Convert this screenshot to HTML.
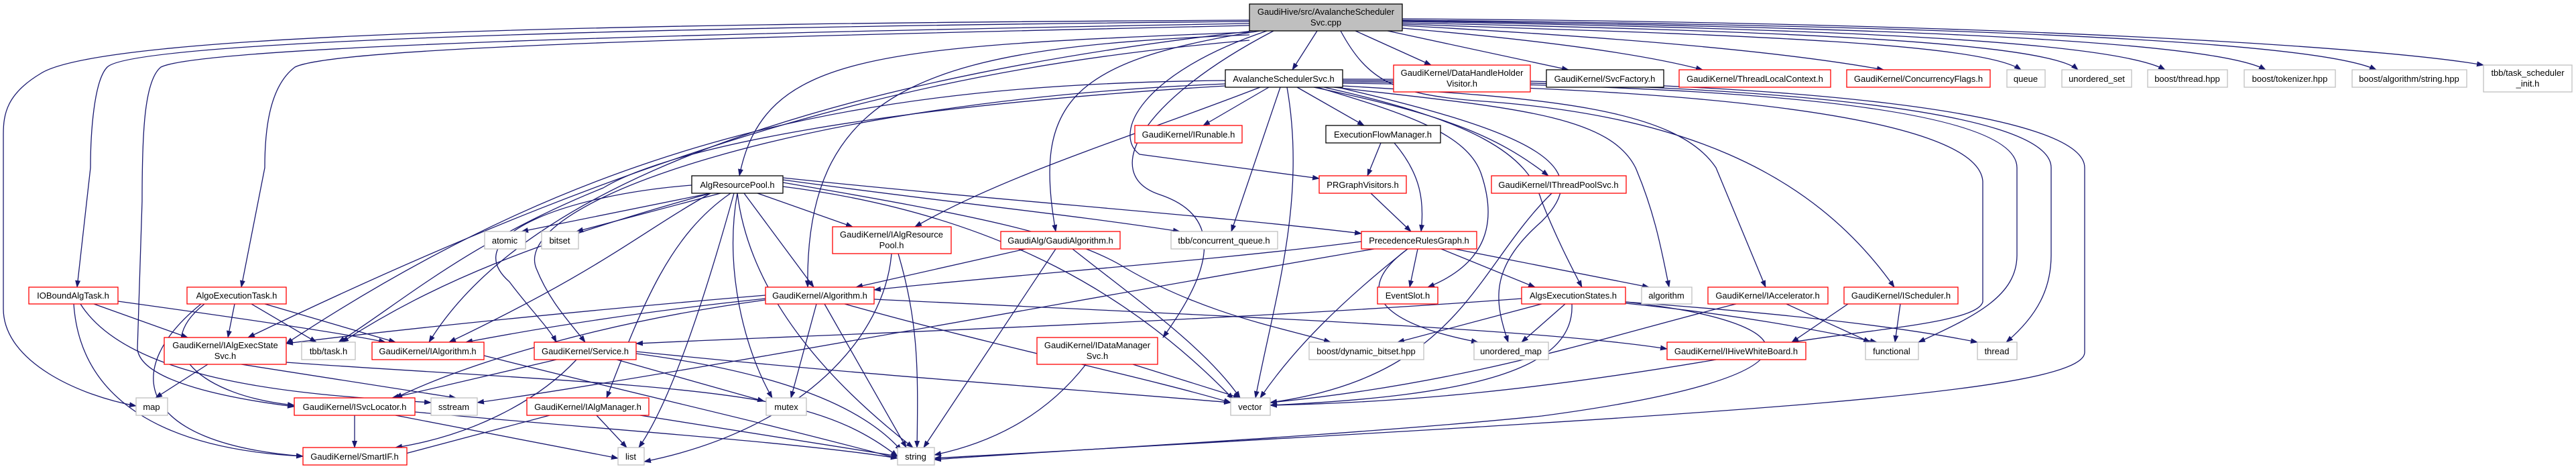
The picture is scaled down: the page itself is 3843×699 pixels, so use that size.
<!DOCTYPE html>
<html><head><meta charset="utf-8"><style>
html,body{margin:0;padding:0;background:#fff;}
svg{display:block;}
text{font-family:"Liberation Sans",sans-serif;font-size:13px;fill:#000;}
.e{fill:none;stroke:#191970;stroke-width:1.3;marker-end:url(#a);}
.r{fill:#fff;stroke:#ff0000;stroke-width:1.3;}
.k{fill:#fff;stroke:#000;stroke-width:1.3;}
.g{fill:#fff;stroke:#bfbfbf;stroke-width:1.3;}
</style></head><body>
<svg width="3843" height="699" viewBox="0 0 3843 699" xmlns="http://www.w3.org/2000/svg">
<defs><marker id="a" markerUnits="userSpaceOnUse" markerWidth="11" markerHeight="8" refX="10" refY="4" orient="auto"><path d="M0,0 L11,4 L0,8 z" fill="#191970"/></marker></defs>
<g>
<path class="e" d="M1965,46 L1928,104"/>
<path class="e" d="M2022,46 L2135,97"/>
<path class="e" d="M2070,46 L2340,104"/>
<path class="e" d="M2092,42 C2300,60 2450,80 2540,104"/>
<path class="e" d="M2092,38 C2400,55 2650,75 2810,104"/>
<path class="e" d="M2092,36 C2500,50 2950,60 3015,104"/>
<path class="e" d="M2092,34 C2600,45 3050,60 3100,104"/>
<path class="e" d="M2092,32 C2700,42 3150,60 3230,104"/>
<path class="e" d="M2092,31 C2800,40 3300,60 3380,104"/>
<path class="e" d="M2092,30 C2900,38 3450,60 3545,104"/>
<path class="e" d="M2092,28 C3000,34 3550,70 3705,97"/>
<path class="e" d="M1864,30 C900,35 150,50 60,110 C10,140 5,170 5,200 L5,460 C5,540 120,590 203,605"/>
<path class="e" d="M1864,32 C1000,40 200,60 160,100 C140,120 135,200 135,250 L115,428"/>
<path class="e" d="M1864,35 C1000,50 300,70 240,100 C215,120 212,200 212,300 L205,520 C210,570 350,595 439,606"/>
<path class="e" d="M1864,38 C1100,55 500,70 440,100 C400,130 395,200 395,250 L360,428"/>
<path class="e" d="M1864,60 C1400,100 1000,200 370,503"/>
<path class="e" d="M1870,46 C1300,110 800,250 640,510"/>
<path class="e" d="M1864,48 C1300,70 1140,80 1103,262"/>
<path class="e" d="M1864,52 C1400,70 1200,120 1205,428"/>
<path class="e" d="M1880,46 C1600,90 1540,150 1575,345"/>
<path class="e" d="M1890,46 C1700,110 1660,200 1700,230 L1968,266"/>
<path class="e" d="M1900,46 C1700,150 1640,260 1730,290 C1850,330 1780,440 1735,503"/>
<path class="e" d="M2000,46 C2040,120 2080,140 2200,150 C2500,170 2700,250 2826,428"/>
<path class="e" d="M1893,130 L1795,187"/>
<path class="e" d="M1935,130 L2035,187"/>
<path class="e" d="M1910,130 L1837,345"/>
<path class="e" d="M1920,130 C1950,300 1900,450 1873,593"/>
<path class="e" d="M1960,130 C2150,170 2230,200 2310,262"/>
<path class="e" d="M1965,130 C2100,170 2190,200 2210,260 C2240,350 2200,400 2130,428"/>
<path class="e" d="M1975,130 C2200,180 2280,230 2300,300 C2320,350 2340,390 2360,428"/>
<path class="e" d="M1990,130 C2250,160 2400,170 2440,250 C2470,320 2480,380 2490,428"/>
<path class="e" d="M2003,128 C2300,145 2500,160 2560,250 L2634,428"/>
<path class="e" d="M2003,124 C2500,130 2950,170 2958,270 L2958,450 C2950,480 2800,490 2673,510"/>
<path class="e" d="M2003,122 C2500,125 3009,150 3009,250 L3009,380 C3009,440 2950,470 2862,510"/>
<path class="e" d="M2003,120 C2600,122 3060,160 3060,250 L3060,380 C3060,430 3040,470 2993,510"/>
<path class="e" d="M2003,118 C2700,118 3110,170 3110,250 L3110,525 C3110,590 2500,620 1394,683"/>
<path class="e" d="M1828,120 C1300,125 900,200 427,512"/>
<path class="e" d="M1880,130 C1700,200 1500,260 1365,338"/>
<path class="e" d="M1828,125 C1200,150 760,300 800,400 C820,450 850,480 873,510"/>
<path class="e" d="M1828,128 C1300,160 1000,220 900,280 C700,360 600,450 505,510"/>
<path class="e" d="M1995,130 C2300,200 2380,250 2300,330 C2220,400 2230,450 2250,510"/>
<path class="e" d="M2060,213 L2040,262"/>
<path class="e" d="M2080,213 C2120,260 2125,300 2120,345"/>
<path class="e" d="M2045,288 L2105,345"/>
<path class="e" d="M2315,288 C2200,400 2180,560 1895,600"/>
<path class="e" d="M1060,288 L778,345"/>
<path class="e" d="M1075,288 L860,345"/>
<path class="e" d="M1130,288 L1272,338"/>
<path class="e" d="M1110,288 L1214,428"/>
<path class="e" d="M1060,288 C800,360 650,420 510,510"/>
<path class="e" d="M1060,288 C950,350 900,400 670,510"/>
<path class="e" d="M1032,276 C850,290 680,350 760,420 C790,460 820,490 830,510"/>
<path class="e" d="M1090,288 C1000,350 960,450 905,593"/>
<path class="e" d="M1095,288 C1050,450 1000,600 953,667"/>
<path class="e" d="M1100,288 C1080,400 1110,520 1152,593"/>
<path class="e" d="M1100,288 C1120,450 1250,580 1362,667"/>
<path class="e" d="M1168,278 C1500,320 1700,450 1840,595"/>
<path class="e" d="M1168,268 C1400,300 1600,320 1760,345"/>
<path class="e" d="M1168,265 C1500,300 1800,320 2031,348"/>
<path class="e" d="M1168,272 C1450,320 1600,350 1680,400 C1800,470 1920,490 1985,510"/>
<path class="e" d="M1330,378 C1320,500 1200,640 961,688"/>
<path class="e" d="M1340,378 C1370,480 1370,550 1368,667"/>
<path class="e" d="M1530,371 L1277,428"/>
<path class="e" d="M1600,371 C1700,450 1800,520 1850,593"/>
<path class="e" d="M1575,371 L1378,667"/>
<path class="e" d="M2031,360 C1800,390 1500,410 1304,432"/>
<path class="e" d="M2115,371 L2103,428"/>
<path class="e" d="M2150,371 L2290,428"/>
<path class="e" d="M2170,371 L2460,428"/>
<path class="e" d="M2100,371 C2000,450 1930,520 1880,593"/>
<path class="e" d="M2100,371 C2020,430 2050,480 2205,510"/>
<path class="e" d="M2050,371 C1700,430 1000,560 712,600"/>
<path class="e" d="M1142,440 C900,460 600,490 427,512"/>
<path class="e" d="M1142,445 C950,465 800,490 695,510"/>
<path class="e" d="M1142,447 C900,480 700,540 590,593"/>
<path class="e" d="M1218,453 L1180,593"/>
<path class="e" d="M1230,453 L1352,667"/>
<path class="e" d="M1260,453 C1500,520 1700,560 1836,600"/>
<path class="e" d="M1304,446 C1800,470 2300,490 2487,520"/>
<path class="e" d="M2300,453 L2085,510"/>
<path class="e" d="M2335,453 L2270,510"/>
<path class="e" d="M2345,453 C2350,550 2200,590 1895,604"/>
<path class="e" d="M2425,450 C2700,480 2750,560 2300,620 C2000,650 1600,670 1394,685"/>
<path class="e" d="M2425,452 C2600,470 2700,490 2800,510"/>
<path class="e" d="M2425,450 C2700,470 2850,490 2950,510"/>
<path class="e" d="M2270,445 C1800,480 1200,500 949,512"/>
<path class="e" d="M2665,453 L2790,510"/>
<path class="e" d="M2590,453 C2400,500 2200,570 1895,600"/>
<path class="e" d="M2835,453 L2827,510"/>
<path class="e" d="M2757,453 L2673,510"/>
<path class="e" d="M2560,536 C2300,580 2100,600 1895,604"/>
<path class="e" d="M310,543 L232,593"/>
<path class="e" d="M360,543 L680,593"/>
<path class="e" d="M427,540 C700,560 1000,570 1150,600 C1250,620 1300,650 1339,680"/>
<path class="e" d="M140,453 L280,503"/>
<path class="e" d="M176,449 C400,480 530,500 575,510"/>
<path class="e" d="M110,453 C120,600 250,670 452,680"/>
<path class="e" d="M120,453 C200,580 500,590 643,600"/>
<path class="e" d="M350,453 L340,503"/>
<path class="e" d="M375,453 L472,510"/>
<path class="e" d="M395,453 L590,510"/>
<path class="e" d="M305,453 C220,520 300,590 439,604"/>
<path class="e" d="M300,453 C180,550 200,660 452,680"/>
<path class="e" d="M722,530 C1000,600 1100,620 1339,683"/>
<path class="e" d="M830,536 L585,593"/>
<path class="e" d="M860,536 C800,600 700,650 590,667"/>
<path class="e" d="M920,536 L1140,598"/>
<path class="e" d="M949,524 C1300,560 1600,580 1836,600"/>
<path class="e" d="M949,527 C1200,560 1300,620 1345,672"/>
<path class="e" d="M1690,543 L1850,593"/>
<path class="e" d="M1620,543 C1560,620 1480,660 1394,678"/>
<path class="e" d="M529,619 L529,667"/>
<path class="e" d="M590,619 L922,683"/>
<path class="e" d="M619,614 C900,640 1200,660 1339,683"/>
<path class="e" d="M820,619 L590,680"/>
<path class="e" d="M890,619 L935,667"/>
<path class="e" d="M955,619 L1340,680"/>
</g>
<g>
<rect x="1864" y="6" width="228" height="40" fill="#bfbfbf" stroke="#000" stroke-width="1.3"/>
<text x="1978" y="22" text-anchor="middle">GaudiHive/src/AvalancheScheduler</text><text x="1978" y="38" text-anchor="middle">Svc.cpp</text>
<rect class="k" x="1828" y="104" width="175" height="26"/><text x="1915" y="122" text-anchor="middle">AvalancheSchedulerSvc.h</text>
<rect class="r" x="2079" y="97" width="204" height="40"/><text x="2181" y="113" text-anchor="middle">GaudiKernel/DataHandleHolder</text><text x="2181" y="129" text-anchor="middle">Visitor.h</text>
<rect class="k" x="2307" y="104" width="175" height="26"/><text x="2394" y="122" text-anchor="middle">GaudiKernel/SvcFactory.h</text>
<rect class="r" x="2505" y="104" width="226" height="26"/><text x="2618" y="122" text-anchor="middle">GaudiKernel/ThreadLocalContext.h</text>
<rect class="r" x="2755" y="104" width="214" height="26"/><text x="2862" y="122" text-anchor="middle">GaudiKernel/ConcurrencyFlags.h</text>
<rect class="g" x="2994" y="104" width="57" height="26"/><text x="3022" y="122" text-anchor="middle">queue</text>
<rect class="g" x="3076" y="104" width="104" height="26"/><text x="3128" y="122" text-anchor="middle">unordered_set</text>
<rect class="g" x="3204" y="104" width="119" height="26"/><text x="3263" y="122" text-anchor="middle">boost/thread.hpp</text>
<rect class="g" x="3348" y="104" width="136" height="26"/><text x="3416" y="122" text-anchor="middle">boost/tokenizer.hpp</text>
<rect class="g" x="3509" y="104" width="171" height="26"/><text x="3594" y="122" text-anchor="middle">boost/algorithm/string.hpp</text>
<rect class="g" x="3705" y="97" width="132" height="40"/><text x="3771" y="113" text-anchor="middle">tbb/task_scheduler</text><text x="3771" y="129" text-anchor="middle">_init.h</text>

<rect class="r" x="1693" y="187" width="160" height="26"/><text x="1773" y="205" text-anchor="middle">GaudiKernel/IRunable.h</text>
<rect class="k" x="1978" y="187" width="171" height="26"/><text x="2063" y="205" text-anchor="middle">ExecutionFlowManager.h</text>

<rect class="k" x="1032" y="262" width="136" height="26"/><text x="1100" y="280" text-anchor="middle">AlgResourcePool.h</text>
<rect class="r" x="1968" y="262" width="130" height="26"/><text x="2033" y="280" text-anchor="middle">PRGraphVisitors.h</text>
<rect class="r" x="2225" y="262" width="201" height="26"/><text x="2325" y="280" text-anchor="middle">GaudiKernel/IThreadPoolSvc.h</text>

<rect class="r" x="1242" y="338" width="177" height="40"/><text x="1330" y="354" text-anchor="middle">GaudiKernel/IAlgResource</text><text x="1330" y="370" text-anchor="middle">Pool.h</text>
<rect class="r" x="1493" y="345" width="178" height="26"/><text x="1582" y="363" text-anchor="middle">GaudiAlg/GaudiAlgorithm.h</text>
<rect class="g" x="1747" y="345" width="159" height="26"/><text x="1826" y="363" text-anchor="middle">tbb/concurrent_queue.h</text>
<rect class="r" x="2031" y="345" width="172" height="26"/><text x="2117" y="363" text-anchor="middle">PrecedenceRulesGraph.h</text>
<rect class="g" x="723" y="345" width="61" height="26"/><text x="753" y="363" text-anchor="middle">atomic</text>
<rect class="g" x="808" y="345" width="55" height="26"/><text x="835" y="363" text-anchor="middle">bitset</text>

<rect class="r" x="43" y="428" width="133" height="25"/><text x="109" y="445" text-anchor="middle">IOBoundAlgTask.h</text>
<rect class="r" x="279" y="428" width="148" height="25"/><text x="353" y="445" text-anchor="middle">AlgoExecutionTask.h</text>
<rect class="r" x="1142" y="428" width="162" height="25"/><text x="1223" y="445" text-anchor="middle">GaudiKernel/Algorithm.h</text>
<rect class="r" x="2055" y="428" width="90" height="25"/><text x="2100" y="445" text-anchor="middle">EventSlot.h</text>
<rect class="r" x="2270" y="428" width="155" height="25"/><text x="2347" y="445" text-anchor="middle">AlgsExecutionStates.h</text>
<rect class="g" x="2449" y="428" width="75" height="25"/><text x="2486" y="445" text-anchor="middle">algorithm</text>
<rect class="r" x="2548" y="428" width="179" height="25"/><text x="2637" y="445" text-anchor="middle">GaudiKernel/IAccelerator.h</text>
<rect class="r" x="2751" y="428" width="170" height="25"/><text x="2836" y="445" text-anchor="middle">GaudiKernel/IScheduler.h</text>

<rect class="r" x="245" y="503" width="182" height="40"/><text x="336" y="519" text-anchor="middle">GaudiKernel/IAlgExecState</text><text x="336" y="535" text-anchor="middle">Svc.h</text>
<rect class="g" x="450" y="510" width="80" height="26"/><text x="490" y="528" text-anchor="middle">tbb/task.h</text>
<rect class="r" x="555" y="510" width="167" height="26"/><text x="638" y="528" text-anchor="middle">GaudiKernel/IAlgorithm.h</text>
<rect class="r" x="797" y="510" width="152" height="26"/><text x="873" y="528" text-anchor="middle">GaudiKernel/Service.h</text>
<rect class="r" x="1547" y="503" width="180" height="40"/><text x="1637" y="519" text-anchor="middle">GaudiKernel/IDataManager</text><text x="1637" y="535" text-anchor="middle">Svc.h</text>
<rect class="g" x="1953" y="510" width="171" height="26"/><text x="2038" y="528" text-anchor="middle">boost/dynamic_bitset.hpp</text>
<rect class="g" x="2199" y="510" width="111" height="26"/><text x="2254" y="528" text-anchor="middle">unordered_map</text>
<rect class="r" x="2487" y="510" width="207" height="26"/><text x="2590" y="528" text-anchor="middle">GaudiKernel/IHiveWhiteBoard.h</text>
<rect class="g" x="2783" y="510" width="79" height="26"/><text x="2822" y="528" text-anchor="middle">functional</text>
<rect class="g" x="2950" y="510" width="59" height="26"/><text x="2979" y="528" text-anchor="middle">thread</text>

<rect class="g" x="203" y="593" width="47" height="26"/><text x="226" y="611" text-anchor="middle">map</text>
<rect class="r" x="439" y="593" width="180" height="26"/><text x="529" y="611" text-anchor="middle">GaudiKernel/ISvcLocator.h</text>
<rect class="g" x="643" y="593" width="69" height="26"/><text x="677" y="611" text-anchor="middle">sstream</text>
<rect class="r" x="786" y="593" width="182" height="26"/><text x="877" y="611" text-anchor="middle">GaudiKernel/IAlgManager.h</text>
<rect class="g" x="1143" y="593" width="60" height="26"/><text x="1173" y="611" text-anchor="middle">mutex</text>
<rect class="g" x="1836" y="593" width="59" height="26"/><text x="1865" y="611" text-anchor="middle">vector</text>

<rect class="r" x="452" y="667" width="155" height="26"/><text x="529" y="685" text-anchor="middle">GaudiKernel/SmartIF.h</text>
<rect class="g" x="922" y="667" width="39" height="26"/><text x="941" y="685" text-anchor="middle">list</text>
<rect class="g" x="1339" y="667" width="55" height="26"/><text x="1366" y="685" text-anchor="middle">string</text>
</g>
</svg>
</body></html>
